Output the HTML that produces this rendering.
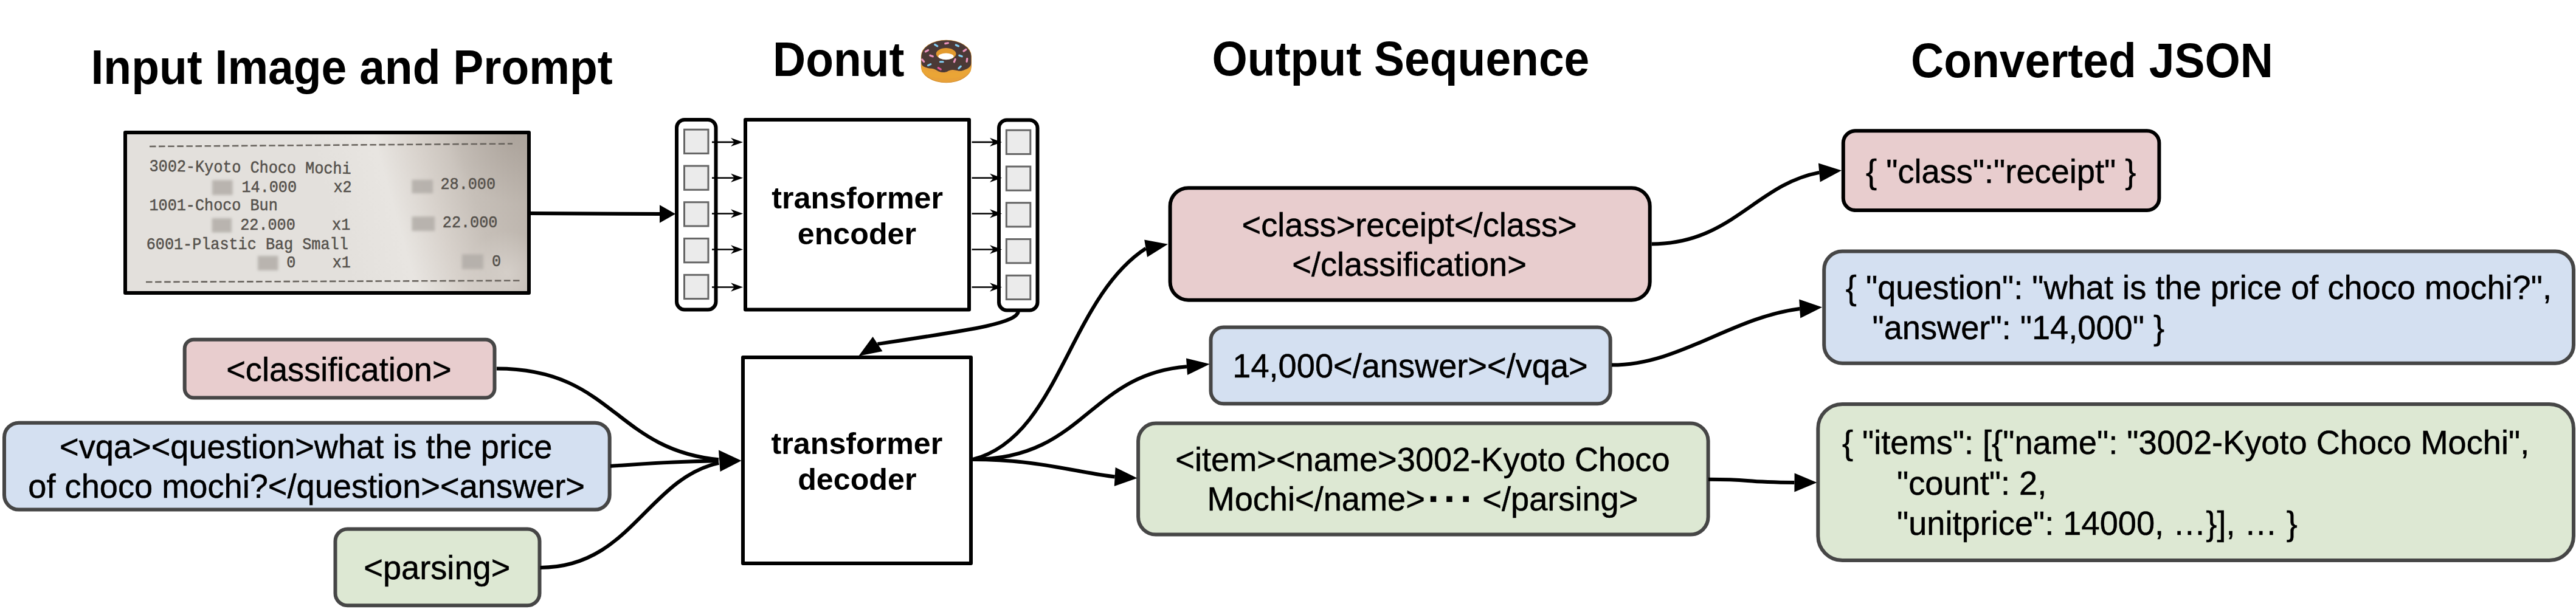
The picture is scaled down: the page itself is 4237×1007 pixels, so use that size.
<!DOCTYPE html>
<html><head><meta charset="utf-8"><style>
html,body{margin:0;padding:0;background:#fff;}
body{width:4237px;height:1007px;overflow:hidden;}
svg{display:block;}
text{font-family:"Liberation Sans",sans-serif;fill:#000;white-space:pre;}
.mono{font-family:"Liberation Mono",monospace;}
</style></head><body>
<svg width="4237" height="1007" viewBox="0 0 4237 1007">
<defs>
<linearGradient id="rg" gradientUnits="userSpaceOnUse" x1="560" y1="400" x2="880" y2="309">
<stop offset="0" stop-color="#e3e0dc"/>
<stop offset="0.3" stop-color="#e8e5e1"/>
<stop offset="0.5" stop-color="#d8d2cc"/>
<stop offset="0.7" stop-color="#c6bfb8"/>
<stop offset="1" stop-color="#bab2aa"/>
</linearGradient>
<radialGradient id="rg2" gradientUnits="userSpaceOnUse" cx="845" cy="225" r="110">
<stop offset="0" stop-color="#80766e" stop-opacity="0.25"/>
<stop offset="1" stop-color="#80766e" stop-opacity="0"/>
</radialGradient>
<radialGradient id="rg3" gradientUnits="userSpaceOnUse" cx="835" cy="450" r="70">
<stop offset="0" stop-color="#e2ddd8" stop-opacity="0.55"/>
<stop offset="1" stop-color="#e2ddd8" stop-opacity="0"/>
</radialGradient>
<filter id="blur" x="-50%" y="-50%" width="200%" height="200%"><feGaussianBlur stdDeviation="2.2"/></filter>
</defs>

<text transform="translate(149.5,138.0) scale(1,1.065)" x="0" y="0" font-size="75" font-weight="700" >Input Image and Prompt</text>
<text transform="translate(1271.0,125.2) scale(1,1.065)" x="0" y="0" font-size="75" font-weight="700" >Donut</text>
<text transform="translate(1993.5,124.0) scale(1,1.065)" x="0" y="0" font-size="75" font-weight="700" >Output Sequence</text>
<text transform="translate(3143.0,127.0) scale(1,1.065)" x="0" y="0" font-size="75" font-weight="700" >Converted JSON</text>
<rect x="206" y="218" width="664" height="264" fill="url(#rg)" stroke="none"/>
<rect x="206" y="218" width="664" height="264" fill="url(#rg2)" stroke="none"/>
<rect x="206" y="218" width="664" height="264" fill="url(#rg3)" stroke="none"/>
<line x1="246" y1="241" x2="843" y2="236.5" stroke="#6a655f" stroke-width="2.6" stroke-dasharray="10.5,4.6"/>
<line x1="240" y1="464" x2="859" y2="461.7" stroke="#6a655f" stroke-width="2.6" stroke-dasharray="10.5,4.6"/>
<rect x="349" y="296.4" width="33.6" height="24.5" fill="#b2ada8" opacity="0.85" filter="url(#blur)"/>
<rect x="677.5" y="295.8" width="34.7" height="22.2" fill="#b2ada8" opacity="0.85" filter="url(#blur)"/>
<rect x="348.6" y="359" width="32.4" height="23.5" fill="#b2ada8" opacity="0.85" filter="url(#blur)"/>
<rect x="677.5" y="356.3" width="37.8" height="23.7" fill="#b2ada8" opacity="0.85" filter="url(#blur)"/>
<rect x="424" y="421" width="33.4" height="23.9" fill="#b2ada8" opacity="0.85" filter="url(#blur)"/>
<rect x="759.8" y="418.4" width="35.2" height="24.4" fill="#b2ada8" opacity="0.85" filter="url(#blur)"/>
<text class="mono" transform="translate(245.5,281.5) rotate(0.75) scale(0.915,1)" x="0" y="0" font-size="27.5" font-weight="400" style="fill:#55514c;stroke:#55514c;stroke-width:0.5">3002-Kyoto Choco Mochi</text>
<text class="mono" transform="translate(397.5,316) rotate(0) scale(0.915,1)" x="0" y="0" font-size="27.5" font-weight="400" style="fill:#55514c;stroke:#55514c;stroke-width:0.5">14.000    x2</text>
<text class="mono" transform="translate(724.5,311) rotate(0) scale(0.915,1)" x="0" y="0" font-size="27.5" font-weight="400" style="fill:#55514c;stroke:#55514c;stroke-width:0.5">28.000</text>
<text class="mono" transform="translate(245.5,345.6) rotate(0) scale(0.915,1)" x="0" y="0" font-size="27.5" font-weight="400" style="fill:#55514c;stroke:#55514c;stroke-width:0.5">1001-Choco Bun</text>
<text class="mono" transform="translate(395.2,377.5) rotate(0) scale(0.915,1)" x="0" y="0" font-size="27.5" font-weight="400" style="fill:#55514c;stroke:#55514c;stroke-width:0.5">22.000    x1</text>
<text class="mono" transform="translate(727.8,374) rotate(0) scale(0.915,1)" x="0" y="0" font-size="27.5" font-weight="400" style="fill:#55514c;stroke:#55514c;stroke-width:0.5">22.000</text>
<text class="mono" transform="translate(240.7,409.6) rotate(0) scale(0.915,1)" x="0" y="0" font-size="27.5" font-weight="400" style="fill:#55514c;stroke:#55514c;stroke-width:0.5">6001-Plastic Bag Small</text>
<text class="mono" transform="translate(471.2,440.4) rotate(0) scale(0.915,1)" x="0" y="0" font-size="27.5" font-weight="400" style="fill:#55514c;stroke:#55514c;stroke-width:0.5">0    x1</text>
<text class="mono" transform="translate(809.1,437.6) rotate(0) scale(0.915,1)" x="0" y="0" font-size="27.5" font-weight="400" style="fill:#55514c;stroke:#55514c;stroke-width:0.5">0</text>
<rect x="206" y="218" width="664" height="264" fill="none" stroke="#000" stroke-width="6" stroke-linejoin="round"/>
<line x1="873" y1="351" x2="1086" y2="352" stroke="#000" stroke-width="6"/>
<polygon points="1111.0,352.0 1085.0,366.7 1085.0,337.3" fill="#000"/>
<rect x="1113.0" y="197.0" width="64.5" height="312.5" rx="13" ry="13" fill="#fff" stroke="#000" stroke-width="6" stroke-linejoin="round"/>
<rect x="1125.5" y="213.2" width="39.5" height="39.3" fill="#ebebeb" stroke="#666" stroke-width="3"/>
<rect x="1125.5" y="273.0" width="39.5" height="39.3" fill="#ebebeb" stroke="#666" stroke-width="3"/>
<rect x="1125.5" y="332.7" width="39.5" height="39.3" fill="#ebebeb" stroke="#666" stroke-width="3"/>
<rect x="1125.5" y="392.5" width="39.5" height="39.3" fill="#ebebeb" stroke="#666" stroke-width="3"/>
<rect x="1125.5" y="452.3" width="39.5" height="39.3" fill="#ebebeb" stroke="#666" stroke-width="3"/>
<rect x="1643.0" y="197.5" width="63.5" height="313.0" rx="13" ry="13" fill="#fff" stroke="#000" stroke-width="6" stroke-linejoin="round"/>
<rect x="1655.3" y="214.2" width="39.5" height="39.3" fill="#ebebeb" stroke="#666" stroke-width="3"/>
<rect x="1655.3" y="274.0" width="39.5" height="39.3" fill="#ebebeb" stroke="#666" stroke-width="3"/>
<rect x="1655.3" y="333.7" width="39.5" height="39.3" fill="#ebebeb" stroke="#666" stroke-width="3"/>
<rect x="1655.3" y="393.5" width="39.5" height="39.3" fill="#ebebeb" stroke="#666" stroke-width="3"/>
<rect x="1655.3" y="453.3" width="39.5" height="39.3" fill="#ebebeb" stroke="#666" stroke-width="3"/>
<line x1="1171" y1="233.9" x2="1214" y2="233.9" stroke="#000" stroke-width="2.6"/>
<polygon points="1222.0,233.9 1202.0,241.1 1208.0,233.9 1202.0,226.7" fill="#000"/>
<line x1="1598.5" y1="233.9" x2="1640" y2="233.9" stroke="#000" stroke-width="2.6"/>
<polygon points="1648.0,233.9 1628.0,241.1 1634.0,233.9 1628.0,226.7" fill="#000"/>
<line x1="1171" y1="292.7" x2="1214" y2="292.7" stroke="#000" stroke-width="2.6"/>
<polygon points="1222.0,292.7 1202.0,299.9 1208.0,292.7 1202.0,285.5" fill="#000"/>
<line x1="1598.5" y1="292.7" x2="1640" y2="292.7" stroke="#000" stroke-width="2.6"/>
<polygon points="1648.0,292.7 1628.0,299.9 1634.0,292.7 1628.0,285.5" fill="#000"/>
<line x1="1171" y1="351.5" x2="1214" y2="351.5" stroke="#000" stroke-width="2.6"/>
<polygon points="1222.0,351.5 1202.0,358.7 1208.0,351.5 1202.0,344.3" fill="#000"/>
<line x1="1598.5" y1="351.5" x2="1640" y2="351.5" stroke="#000" stroke-width="2.6"/>
<polygon points="1648.0,351.5 1628.0,358.7 1634.0,351.5 1628.0,344.3" fill="#000"/>
<line x1="1171" y1="410.5" x2="1214" y2="410.5" stroke="#000" stroke-width="2.6"/>
<polygon points="1222.0,410.5 1202.0,417.7 1208.0,410.5 1202.0,403.3" fill="#000"/>
<line x1="1598.5" y1="410.5" x2="1640" y2="410.5" stroke="#000" stroke-width="2.6"/>
<polygon points="1648.0,410.5 1628.0,417.7 1634.0,410.5 1628.0,403.3" fill="#000"/>
<line x1="1171" y1="472.5" x2="1214" y2="472.5" stroke="#000" stroke-width="2.6"/>
<polygon points="1222.0,472.5 1202.0,479.7 1208.0,472.5 1202.0,465.3" fill="#000"/>
<line x1="1598.5" y1="472.5" x2="1640" y2="472.5" stroke="#000" stroke-width="2.6"/>
<polygon points="1648.0,472.5 1628.0,479.7 1634.0,472.5 1628.0,465.3" fill="#000"/>
<rect x="1226.0" y="197.0" width="368.0" height="312.5" rx="0" ry="0" fill="#fff" stroke="#000" stroke-width="6" stroke-linejoin="round"/>
<rect x="1222.0" y="588.0" width="375.0" height="339.0" rx="0" ry="0" fill="#fff" stroke="#000" stroke-width="6" stroke-linejoin="round"/>
<text transform="translate(1269.3,343.0) scale(1,1.0)" x="0" y="0" font-size="50.2" font-weight="700" >transformer</text>
<text transform="translate(1311.8,402.4) scale(1,1.0)" x="0" y="0" font-size="50.2" font-weight="700" >encoder</text>
<text transform="translate(1268.6,747.0) scale(1,1.0)" x="0" y="0" font-size="50.2" font-weight="700" >transformer</text>
<text transform="translate(1312.2,805.8) scale(1,1.0)" x="0" y="0" font-size="50.2" font-weight="700" >decoder</text>
<rect x="303.7" y="558.7" width="509.8" height="95.7" rx="15" ry="15" fill="#e8cdce" stroke="#464646" stroke-width="6" stroke-linejoin="round"/>
<text transform="translate(372.2,627.0) scale(1,1.03)" x="0" y="0" font-size="54.2" font-weight="400" stroke="#000" stroke-width="0.5" >&lt;classification&gt;</text>
<rect x="7.0" y="695.7" width="995.7" height="142.9" rx="24" ry="24" fill="#d4e0f1" stroke="#464646" stroke-width="6" stroke-linejoin="round"/>
<text transform="translate(98.0,754.0) scale(1,1.03)" x="0" y="0" font-size="54.2" font-weight="400" stroke="#000" stroke-width="0.5" >&lt;vqa&gt;&lt;question&gt;what is the price</text>
<text transform="translate(46.3,819.4) scale(1,1.03)" x="0" y="0" font-size="54.2" font-weight="400" stroke="#000" stroke-width="0.5" >of choco mochi?&lt;/question&gt;&lt;answer&gt;</text>
<rect x="551.5" y="870.4" width="336.0" height="125.9" rx="20" ry="20" fill="#dde8d3" stroke="#464646" stroke-width="6" stroke-linejoin="round"/>
<text transform="translate(598.3,953.0) scale(1,1.03)" x="0" y="0" font-size="54.2" font-weight="400" stroke="#000" stroke-width="0.5" >&lt;parsing&gt;</text>
<rect x="1924.6" y="309.2" width="789.1" height="184.5" rx="30" ry="30" fill="#e8cdce" stroke="#000" stroke-width="6" stroke-linejoin="round"/>
<text transform="translate(2042.6,388.8) scale(1,1.03)" x="0" y="0" font-size="54.2" font-weight="400" stroke="#000" stroke-width="0.5" >&lt;class&gt;receipt&lt;/class&gt;</text>
<text transform="translate(2125.3,453.5) scale(1,1.03)" x="0" y="0" font-size="54.2" font-weight="400" stroke="#000" stroke-width="0.5" >&lt;/classification&gt;</text>
<rect x="1991.5" y="538.4" width="657.2" height="125.9" rx="21" ry="21" fill="#d4e0f1" stroke="#464646" stroke-width="6" stroke-linejoin="round"/>
<text transform="translate(2027.3,621.2) scale(1,1.03)" x="0" y="0" font-size="54.2" font-weight="400" stroke="#000" stroke-width="0.5" >14,000&lt;/answer&gt;&lt;/vqa&gt;</text>
<rect x="1872.1" y="696.6" width="937.5" height="183.0" rx="29" ry="29" fill="#dde8d3" stroke="#464646" stroke-width="6" stroke-linejoin="round"/>
<text transform="translate(1933.3,775.1) scale(1,1.03)" x="0" y="0" font-size="54.2" font-weight="400" stroke="#000" stroke-width="0.5" >&lt;item&gt;&lt;name&gt;3002-Kyoto Choco</text>
<text transform="translate(1985.5,840.0) scale(1,1.03)" x="0" y="0" font-size="54.2" font-weight="400" stroke="#000" stroke-width="0.5" >Mochi&lt;/name&gt;</text>
<rect x="2352.8" y="816.4" width="9.5" height="9.6" fill="#000"/>
<rect x="2379.2" y="816.4" width="9.5" height="9.6" fill="#000"/>
<rect x="2406.4" y="816.4" width="9.5" height="9.6" fill="#000"/>
<text transform="translate(2438.3,840.0) scale(1,1.03)" x="0" y="0" font-size="54.2" font-weight="400" stroke="#000" stroke-width="0.5" >&lt;/parsing&gt;</text>
<rect x="3031.8" y="215.3" width="519.6" height="130.7" rx="20" ry="20" fill="#e8cdce" stroke="#000" stroke-width="6" stroke-linejoin="round"/>
<text transform="translate(3069.0,300.7) scale(1,1.03)" x="0" y="0" font-size="54.2" font-weight="400" stroke="#000" stroke-width="0.5" >{ "class":"receipt" }</text>
<rect x="3000.2" y="413.6" width="1232.8" height="184.1" rx="30" ry="30" fill="#d4e0f1" stroke="#464646" stroke-width="6" stroke-linejoin="round"/>
<text transform="translate(3035.8,491.7) scale(1,1.03)" x="0" y="0" font-size="54.2" font-weight="400" stroke="#000" stroke-width="0.5" >{ "question": "what is the price of choco mochi?",</text>
<text transform="translate(3079.5,557.7) scale(1,1.03)" x="0" y="0" font-size="54.2" font-weight="400" stroke="#000" stroke-width="0.5" >"answer": "14,000" }</text>
<rect x="2990.3" y="665.0" width="1242.7" height="257.0" rx="40" ry="40" fill="#dde8d3" stroke="#464646" stroke-width="6" stroke-linejoin="round"/>
<text transform="translate(3029.9,746.6) scale(1,1.03)" x="0" y="0" font-size="54.2" font-weight="400" stroke="#000" stroke-width="0.5" >{ "items": [{"name": "3002-Kyoto Choco Mochi",</text>
<text transform="translate(3120.0,813.5) scale(1,1.03)" x="0" y="0" font-size="54.2" font-weight="400" stroke="#000" stroke-width="0.5" >"count": 2,</text>
<text transform="translate(3120.0,879.5) scale(1,1.03)" x="0" y="0" font-size="54.2" font-weight="400" stroke="#000" stroke-width="0.5" >"unitprice": 14000, …}], … }</text>
<path d="M816.9,606.5 C1007.9,606.5 1010.2,739.6 1182.1,756.3" fill="none" stroke="#000" stroke-width="6"/>
<path d="M1004.0,766.7 C1018.6,766.7 1080.7,759.7 1182.0,758.3" fill="none" stroke="#000" stroke-width="6"/>
<path d="M888.6,933.9 C1037.0,933.9 1064.9,787.6 1182.3,761.8" fill="none" stroke="#000" stroke-width="6"/>
<polygon points="1219.5,758 1182,740.5 1184.5,776" fill="#000"/>
<path d="M1600.0,756.0 C1707.2,756.0 1771.0,777.5 1833.7,784.5" fill="none" stroke="#000" stroke-width="6"/>
<polygon points="1870.6,786.7 1832.8,800.0 1834.6,769.0" fill="#000"/>
<path d="M2716.7,401.4 C2847.9,401.4 2888.4,303.3 2992.3,283.9" fill="none" stroke="#000" stroke-width="6"/>
<polygon points="3029.0,280.6 2993.7,299.4 2990.9,268.5" fill="#000"/>
<path d="M2651.0,600.6 C2762.5,600.6 2846.5,522.8 2960.2,508.0" fill="none" stroke="#000" stroke-width="6"/>
<polygon points="2997.0,505.6 2961.2,523.5 2959.2,492.5" fill="#000"/>
<path d="M2810.0,788.7 C2890.2,788.7 2855.7,793.0 2951.5,793.9" fill="none" stroke="#000" stroke-width="6"/>
<polygon points="2988.5,794.0 2951.4,809.4 2951.6,778.4" fill="#000"/>
<path d="M1600,756 C1742.8,719.7 1756.4,492.5 1884.6,408.8" fill="none" stroke="#000" stroke-width="6"/>
<polygon points="1921,401.7 1882.2,394.6 1887,422.9" fill="#000"/>
<path d="M1600,756 C1782.6,756 1791.1,615.6 1952,603.2" fill="none" stroke="#000" stroke-width="6"/>
<polygon points="1990,599 1951,589.4 1953,617" fill="#000"/>
<path d="M1675,511 C1675,531.7 1603.2,542 1443.5,566" fill="none" stroke="#000" stroke-width="6"/>
<polygon points="1412.3,585.8 1435.6,554 1451.5,578" fill="#000"/>
<g transform="translate(1505,58) scale(0.13889)">
<path d="M75,250 A295,190 0 0 1 665,250 L665,370 A295,190 0 0 1 75,370 Z" fill="#e8a139" stroke="#d58e2a" stroke-width="8"/>
<path d="M80,380 C150,470 560,470 660,380 L660,430 C560,540 150,540 80,430Z" fill="#eba935" opacity="0.6"/>
<path d="M75,250 A295,190 0 0 1 665,250 L665,330 C665,380 620,400 560,420 C520,432 500,412 450,410 C400,406 390,440 330,440 C270,440 250,398 200,395 C150,390 80,380 75,330 Z" fill="#4b3936"/>
<ellipse cx="368" cy="220" rx="118" ry="68" fill="#e39a2e"/>
<ellipse cx="367" cy="251" rx="92" ry="38" fill="#fff"/>
<line x1="233" y1="120" x2="267" y2="120" stroke="#82cdf2" stroke-width="23" stroke-linecap="round" transform="rotate(30 250 120)"/>
<line x1="358" y1="95" x2="392" y2="95" stroke="#ec93bd" stroke-width="23" stroke-linecap="round" transform="rotate(-10 375 95)"/>
<line x1="483" y1="122" x2="517" y2="122" stroke="#82cdf2" stroke-width="23" stroke-linecap="round" transform="rotate(25 500 122)"/>
<line x1="123" y1="185" x2="157" y2="185" stroke="#ec93bd" stroke-width="23" stroke-linecap="round" transform="rotate(-30 140 185)"/>
<line x1="573" y1="178" x2="607" y2="178" stroke="#ec93bd" stroke-width="23" stroke-linecap="round" transform="rotate(-35 590 178)"/>
<line x1="178" y1="245" x2="212" y2="245" stroke="#ec93bd" stroke-width="23" stroke-linecap="round" transform="rotate(20 195 245)"/>
<line x1="523" y1="245" x2="557" y2="245" stroke="#82cdf2" stroke-width="23" stroke-linecap="round" transform="rotate(20 540 245)"/>
<line x1="78" y1="300" x2="112" y2="300" stroke="#ec93bd" stroke-width="23" stroke-linecap="round" transform="rotate(50 95 300)"/>
<line x1="298" y1="315" x2="332" y2="315" stroke="#82cdf2" stroke-width="23" stroke-linecap="round" transform="rotate(0 315 315)"/>
<line x1="453" y1="300" x2="487" y2="300" stroke="#ec93bd" stroke-width="23" stroke-linecap="round" transform="rotate(-68 470 300)"/>
<line x1="598" y1="295" x2="632" y2="295" stroke="#ec93bd" stroke-width="23" stroke-linecap="round" transform="rotate(-82 615 295)"/>
<line x1="153" y1="350" x2="187" y2="350" stroke="#82cdf2" stroke-width="23" stroke-linecap="round" transform="rotate(-25 170 350)"/>
<line x1="273" y1="395" x2="307" y2="395" stroke="#e0569a" stroke-width="23" stroke-linecap="round" transform="rotate(30 290 395)"/>
<line x1="513" y1="380" x2="547" y2="380" stroke="#82cdf2" stroke-width="23" stroke-linecap="round" transform="rotate(-45 530 380)"/>
</g>
</svg></body></html>
